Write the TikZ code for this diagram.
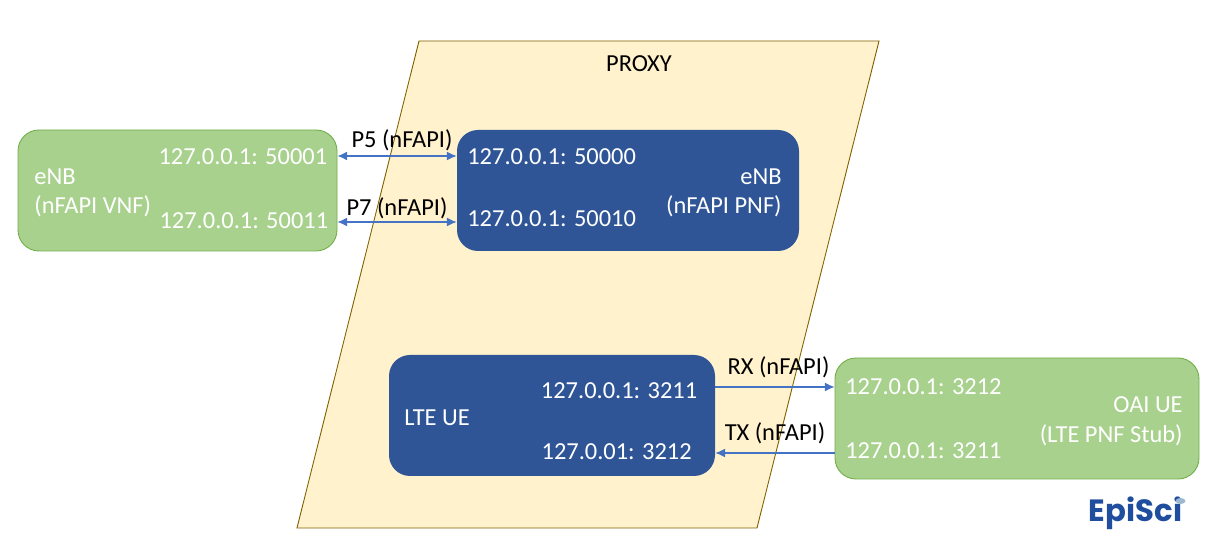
\documentclass[tikz,border=0pt]{standalone}
\usepackage{fontspec}
\setmainfont{Carlito}
\newfontfamily\logofont{Poppins}
\definecolor{proxyfill}{HTML}{FFF2CC}
\definecolor{proxyline}{HTML}{7F6000}
\definecolor{greenfill}{HTML}{A9D18E}
\definecolor{greenline}{HTML}{70AD47}
\definecolor{bluefill}{HTML}{2F5597}
\definecolor{linkblue}{HTML}{4472C4}
\definecolor{logoblue}{HTML}{1F4E9E}
\definecolor{logodot}{HTML}{9DB8D0}
\usetikzlibrary{arrows.meta}
\tikzset{
  greenbox/.style={draw=greenline,fill=greenfill,rounded corners=0.42cm,minimum height=2.42cm,inner sep=0pt,line width=0.5pt},
  bluebox/.style={fill=bluefill,rounded corners=0.42cm,minimum height=2.42cm,inner sep=0pt},
  addr/.style={text=white,font=\fontsize{13.9}{16}\selectfont,inner sep=0pt},
  lbl/.style={text=black,font=\fontsize{13.9}{16}\selectfont,inner sep=0pt},
  link/.style={color=linkblue,line width=0.6pt,-{Latex[length=5.5pt,width=5pt]}},
  dlink/.style={color=linkblue,line width=0.6pt,{Latex[length=5.5pt,width=5pt]}-{Latex[length=5.5pt,width=5pt]}}
}
\begin{document}
\begin{tikzpicture}
   \useasboundingbox (0,0) rectangle (24.18,11.14);

   % proxy
   \filldraw[fill=proxyfill,draw=proxyline,line width=0.5pt] (8.38,10.32) -- (17.58,10.32) -- (15.14,0.58) -- (5.94,0.58) -- cycle;
   \node[lbl] (proxy) at (12.78,9.86) {PROXY};

   % boxes
   \node[greenbox,minimum width=6.38cm] (vnf) at (3.55,7.33) {};
   \node[bluebox,minimum width=6.84cm] (pnf) at (12.56,7.33) {};
   \node[bluebox,minimum width=6.52cm] (ue) at (11.04,2.83) {};
   \node[greenbox,minimum width=7.28cm] (oai) at (20.34,2.77) {};

   % vnf text
   \node[addr,anchor=east] (vnfa) at (6.55,8.01) {127.0.0.1: 50001};
   \node[addr,anchor=east] (vnfb) at (6.57,6.73) {127.0.0.1: 50011};
   \node[addr,anchor=west] (vnfname) at (0.68,7.6) {eNB};
   \node[addr,anchor=west] (vnftype) at (0.68,7.01) {(nFAPI VNF)};

   % pnf text
   \node[addr,anchor=west] (pnfa) at (9.34,8.01) {127.0.0.1: 50000};
   \node[addr,anchor=west] (pnfb) at (9.34,6.77) {127.0.0.1: 50010};
   \node[addr,anchor=east] (pnfname) at (15.64,7.6) {eNB};
   \node[addr,anchor=east] (pnftype) at (15.64,7.01) {(nFAPI PNF)};

   % ue text
   \node[addr,anchor=east] (uea) at (13.95,3.33) {127.0.0.1: 3211};
   \node[addr,anchor=east] (ueb) at (13.84,2.11) {127.0.01: 3212};
   \node[addr,anchor=west] (uename) at (8.08,2.79) {LTE UE};

   % oai text
   \node[addr,anchor=west] (oaia) at (16.9,3.41) {127.0.0.1: 3212};
   \node[addr,anchor=west] (oaib) at (16.9,2.13) {127.0.0.1: 3211};
   \node[addr,anchor=east] (oainame) at (23.66,3.05) {OAI UE};
   \node[addr,anchor=east] (oaitype) at (23.66,2.44) {(LTE PNF Stub)};

   % links
   \draw[dlink] (vnf.east |- 0,8.02) -- (pnf.west |- 0,8.02);
   \draw[dlink] (vnf.east |- 0,6.70) -- (pnf.west |- 0,6.70);
   \draw[link] (ue.east |- 0,3.40) -- (oai.west |- 0,3.40);
   \draw[link] (oai.west |- 0,2.08) -- (ue.east |- 0,2.08);

   \node[lbl] (lblfive) at (8.04,8.33) {P5 (nFAPI)};
   \node[lbl] (lblseven) at (7.94,6.98) {P7 (nFAPI)};
   \node[lbl] (lblrx) at (15.57,3.80) {RX (nFAPI)};
   \node[lbl] (lbltx) at (15.5,2.48) {TX (nFAPI)};

   % logo
   \node[inner sep=0pt,anchor=base,text=logoblue,font=\logofont\fontsize{17.5}{20}\selectfont\bfseries] (logo) at (22.71,0.70) {EpiSci};
   \fill[color=logodot] (23.61,1.12) ellipse (0.1 and 0.06);
\end{tikzpicture}
\end{document}
